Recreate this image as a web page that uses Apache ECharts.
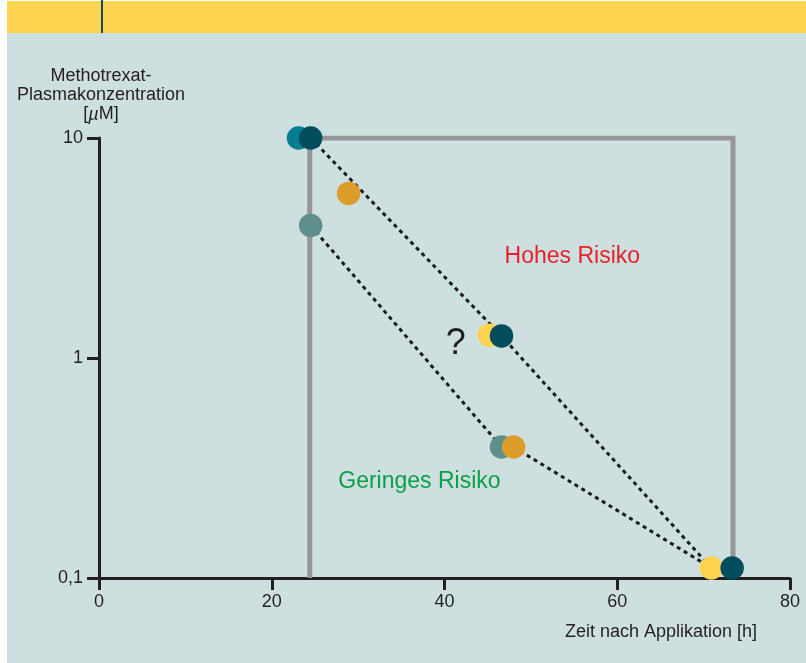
<!DOCTYPE html>
<html>
<head>
<meta charset="utf-8">
<script src="https://cdn.jsdelivr.net/npm/echarts@6/dist/echarts.min.js"></script>
<style>
  html, body { margin: 0; padding: 0; background: #fff; }
  #main { width: 806px; height: 663px; }
</style>
</head>
<body>
<div id="main"></div>
<script>
// Daten (x = Stunden, y = µM)
const xTicks = [0, 20, 40, 60, 80];
const yTicks = [0.1, 1, 10];
const yTickLabels = ['0,1', '1', '10'];

const riskBox = [[24.4, 0.1], [24.4, 10], [73.4, 10], [73.4, 0.1]];
const upperCurve = [[24.5, 10], [46.6, 1.26], [70.9, 0.111]];
const lowerCurve = [[24.5, 4], [46.6, 0.394], [48, 0.394], [70.9, 0.111]];

const tealPts = [[23.1, 10]];
const yellowPts = [[45.2, 1.27], [70.9, 0.111]];
const greyTealPts = [[24.5, 4], [46.6, 0.394]];
const orangePts = [[28.9, 5.6], [48, 0.394]];
const darkPts = [[24.5, 10], [46.6, 1.26], [73.3, 0.111]];

const notes = ['Hohes Risiko', 'Geringes Risiko', '?'];
const notePos = [[54.8, 2.9], [37.1, 0.273], [41.3, 1.16]];

const ink = '#231f20';
const font = 'Liberation Sans, Arial, Helvetica, sans-serif';

const chart = echarts.init(document.getElementById('main'));

const dots = (data, color) => ({
  type: 'scatter',
  data: data,
  symbolSize: 23.5,
  itemStyle: {color: color, opacity: 1},
  z: 5
});

const option = {
  backgroundColor: '#cedfdf',
  animation: false,
  textStyle: {fontFamily: font},
  graphic: [
    {type: 'rect', shape: {x: 0, y: 0, width: 7, height: 663}, style: {fill: '#ffffff'}},
    {type: 'rect', shape: {x: 0, y: 0, width: 806, height: 1}, style: {fill: '#ffffff'}},
    {type: 'rect', shape: {x: 7, y: 1, width: 799, height: 32}, style: {fill: '#fdd44f'}},
    {type: 'rect', shape: {x: 101, y: 0, width: 2, height: 33}, style: {fill: '#0f4a66'}},
    {
      type: 'text', right: 49, top: 623,
      style: {text: 'Zeit nach Applikation [h]', fill: ink, font: '18px ' + font}
    }
  ],
  grid: {left: 99, right: 16, top: 138, bottom: 85},
  xAxis: {
    type: 'value',
    min: 0, max: 80, interval: 20,
    axisLine: {show: true, onZero: false, lineStyle: {color: ink, width: 3}},
    axisTick: {show: true, length: 12, lineStyle: {color: ink, width: 3}},
    axisLabel: {color: ink, fontSize: 18, margin: 15,
      formatter: v => xTicks.includes(v) ? String(v) : ''},
    splitLine: {show: false}
  },
  yAxis: {
    type: 'log', logBase: 10,
    min: 0.1, max: 10,
    name: 'Methotrexat-\nPlasmakonzentration\n[{i|µ}M]',
    nameLocation: 'end',
    nameGap: 14,
    nameTextStyle: {
      color: ink, fontSize: 18, lineHeight: 19, align: 'center', verticalAlign: 'bottom',
      padding: [0, 0, 0, 4],
      rich: {i: {fontStyle: 'italic', fontSize: 18, color: ink}}
    },
    axisLine: {show: true, lineStyle: {color: ink, width: 3}},
    axisTick: {show: true, length: 12, lineStyle: {color: ink, width: 3}},
    minorTick: {show: false},
    axisLabel: {color: ink, fontSize: 18, margin: 16,
      formatter: v => {
        const i = yTicks.findIndex(t => Math.abs(t - v) < 1e-9);
        return i >= 0 ? yTickLabels[i] : '';
      }},
    splitLine: {show: false}
  },
  series: [
    {
      type: 'line', data: riskBox, symbol: 'none', z: 2,
      lineStyle: {color: '#969698', width: 5, join: 'miter'}
    },
    {
      type: 'line', data: upperCurve, symbol: 'none', z: 3,
      lineStyle: {color: '#1a1a1a', width: 3, type: [4, 4]}
    },
    {
      type: 'line', data: lowerCurve, symbol: 'none', z: 3,
      lineStyle: {color: '#1a1a1a', width: 3, type: [4, 4]}
    },
    dots(tealPts, '#077e90'),
    dots(yellowPts, '#fdd44f'),
    dots(greyTealPts, '#5f8f8c'),
    dots(orangePts, '#dc9d2b'),
    dots(darkPts, '#024d5d'),
    {
      type: 'scatter', symbolSize: 0, z: 6, silent: true,
      itemStyle: {opacity: 1},
      data: notes.map((t, i) => ({
        value: notePos[i],
        label: {
          show: true, position: 'inside', formatter: t,
          fontSize: i === 2 ? 36 : 23,
          textBorderWidth: 0, opacity: 1,
          color: i === 0 ? '#e8202b' : (i === 1 ? '#0a9f48' : ink)
        }
      }))
    }
  ]
};

chart.setOption(option);
</script>
</body>
</html>
